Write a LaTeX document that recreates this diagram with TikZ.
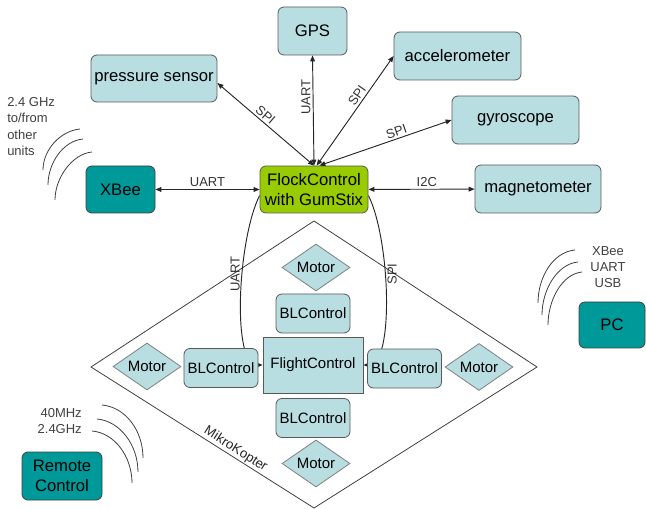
\documentclass[tikz,border=0pt]{standalone}
\usepackage{fontspec}
\setmainfont{Liberation Sans}
\usetikzlibrary{arrows.meta,shapes.geometric}
\pgfdeclarelayer{bg}
\pgfsetlayers{bg,main}
\definecolor{lightbox}{RGB}{184,222,226}
\definecolor{tealbox}{RGB}{0,153,153}
\definecolor{greenbox}{RGB}{153,204,0}
\begin{document}
\begin{tikzpicture}[x=0.75pt,y=-0.75pt,
  arr/.style={draw=black!85, line width=0.7pt, >={Triangle[length=4.5pt,width=3.6pt]}},
  lab/.style={font=\fontsize{9.75}{11}\selectfont, text=black!80, inner sep=1.5pt},
  box/.style={draw=black!65, line width=0.6pt, rounded corners=4.5pt, fill=lightbox, inner sep=0pt, align=center, font=\fontsize{12.5}{15}\selectfont},
  tbox/.style={box, fill=tealbox, draw=black!75},
  gbox/.style={box, fill=greenbox},
  motor/.style={diamond, draw=black!50, line width=0.6pt, fill=lightbox, minimum width=51pt, minimum height=35.25pt, inner sep=0pt, aspect=1.45, font=\fontsize{11.25}{13}\selectfont},
  blc/.style={box, font=\fontsize{11.25}{13}\selectfont, minimum width=55.5pt, minimum height=29.25pt},
  fc/.style={draw=black!65, line width=0.6pt, fill=lightbox, minimum width=75pt, minimum height=42pt, inner sep=0pt, font=\fontsize{11.25}{13}\selectfont},
  wave/.style={draw=black!75, line width=0.6pt},
  note/.style={font=\fontsize{9.75}{12.2}\selectfont, text=black!75, inner sep=0pt}]
\useasboundingbox (0,0) rectangle (646,509);

% sensors and units
\node[box, minimum width=51.75pt, minimum height=36pt] (gps) at (312.5,31) {GPS};
\node[box, minimum width=95.25pt, minimum height=36pt] (acc) at (457.5,56) {accelerometer};
\node[box, minimum width=94.5pt, minimum height=35.25pt] (pres) at (154,78.5) {pressure sensor};
\node[box, minimum width=95.25pt, minimum height=36pt] (gyro) at (515.5,120) {gyroscope};
\node[box, minimum width=94.5pt, minimum height=36pt] (mag) at (538,189) {magnetometer};
\node[tbox, minimum width=51.75pt, minimum height=35.25pt] (xbee) at (120.5,189.5) {XBee};
\node[gbox, minimum width=81pt, minimum height=35.25pt] (flock) at (314,189.5) {FlockControl\\with GumStix};
\node[tbox, minimum width=49.5pt, minimum height=34.5pt] (pc) at (612,325) {PC};
\node[tbox, minimum width=60pt, minimum height=36pt] (rc) at (62,476) {Remote\\Control};

% MikroKopter interior
\node[motor] (mt) at (316,267.5) {Motor};
\node[motor] (ml) at (147,366.5) {Motor};
\node[motor] (mr) at (479,367) {Motor};
\node[motor] (mb) at (316,463.5) {Motor};
\node[blc] (bt) at (313,313.5) {BLControl};
\node[blc] (bl) at (221,368) {BLControl};
\node[blc] (br) at (404.5,368.5) {BLControl};
\node[blc] (bb) at (313,418) {BLControl};
\node[fc] (flight) at (313,365) {FlightControl};

% connectors
\draw[arr,<->] (xbee) -- (flock) node[lab,midway,above] {UART};
\draw[arr,<->] (flock) -- (mag) node[lab,pos=0.55,above] {I2C};
\draw[arr,<->] (flock.north) -- ([yshift=-3.4pt]pres.east) node[lab,pos=0.55,sloped,above] {SPI};
\draw[arr,<->] (flock.north) -- (gps.south) node[lab,pos=0.62,rotate=90,anchor=south] {UART};
\draw[arr,<->] ([xshift=2pt]flock.north) -- (acc.west) node[lab,pos=0.6,sloped,above] {SPI};
\draw[arr,<->] ([xshift=4pt]flock.north) -- (gyro.west) node[lab,pos=0.6,sloped,above] {SPI};

\begin{pgfonlayer}{bg}
\coordinate (kL) at (91,367);
\coordinate (kT) at (314,221);
\coordinate (kR) at (537,367);
\coordinate (kB) at (314,508);
\draw[draw=black!75, line width=0.6pt] (kL) -- (kT) -- (kR) -- (kB) -- cycle;
\path (kL) -- (kB) node[pos=0.63,sloped,above,font=\fontsize{10}{12}\selectfont,text=black!85,inner sep=1pt] {MikroKopter};
\draw[arr,->] ([yshift=-4.5pt]flock.west) .. controls +(-22,44) and +(-31,0) .. (flight.west)
  node[lab,pos=0.4,rotate=90,anchor=south] {UART};
\draw[arr,->] ([yshift=-4.5pt]flock.east) .. controls +(22,44) and +(31,0) .. (flight.east)
  node[lab,pos=0.4,rotate=90,anchor=north] {SPI};
\end{pgfonlayer}

% radio waves
\draw[wave] (80,129) .. controls (60,131) and (43,150) .. (43,170);
\draw[wave] (83,139) .. controls (63,141) and (48,163) .. (48,185);
\draw[wave] (92,152) .. controls (72,154) and (55,178) .. (55,200);
\draw[wave] (102,405) .. controls (125,407) and (143,430) .. (143,458);
\draw[wave] (97,419) .. controls (120,421) and (138,445) .. (138,472);
\draw[wave] (92,431) .. controls (115,433) and (132,457) .. (132,483);
\draw[wave] (575,250) .. controls (553,252) and (538,277) .. (538,303);
\draw[wave] (578,262) .. controls (557,264) and (542,290) .. (542,315);
\draw[wave] (582,272) .. controls (562,274) and (548,300) .. (548,325);

% notes
\node[note, align=left, anchor=west] (n1) at (7,126.5) {2.4 GHz\\to/from\\other\\units};
\node[note, align=right, anchor=east] (n2) at (82,421) {40MHz\\2.4GHz};
\node[note, align=center] (n3) at (608,267) {XBee\\UART\\USB};
\end{tikzpicture}
\end{document}
